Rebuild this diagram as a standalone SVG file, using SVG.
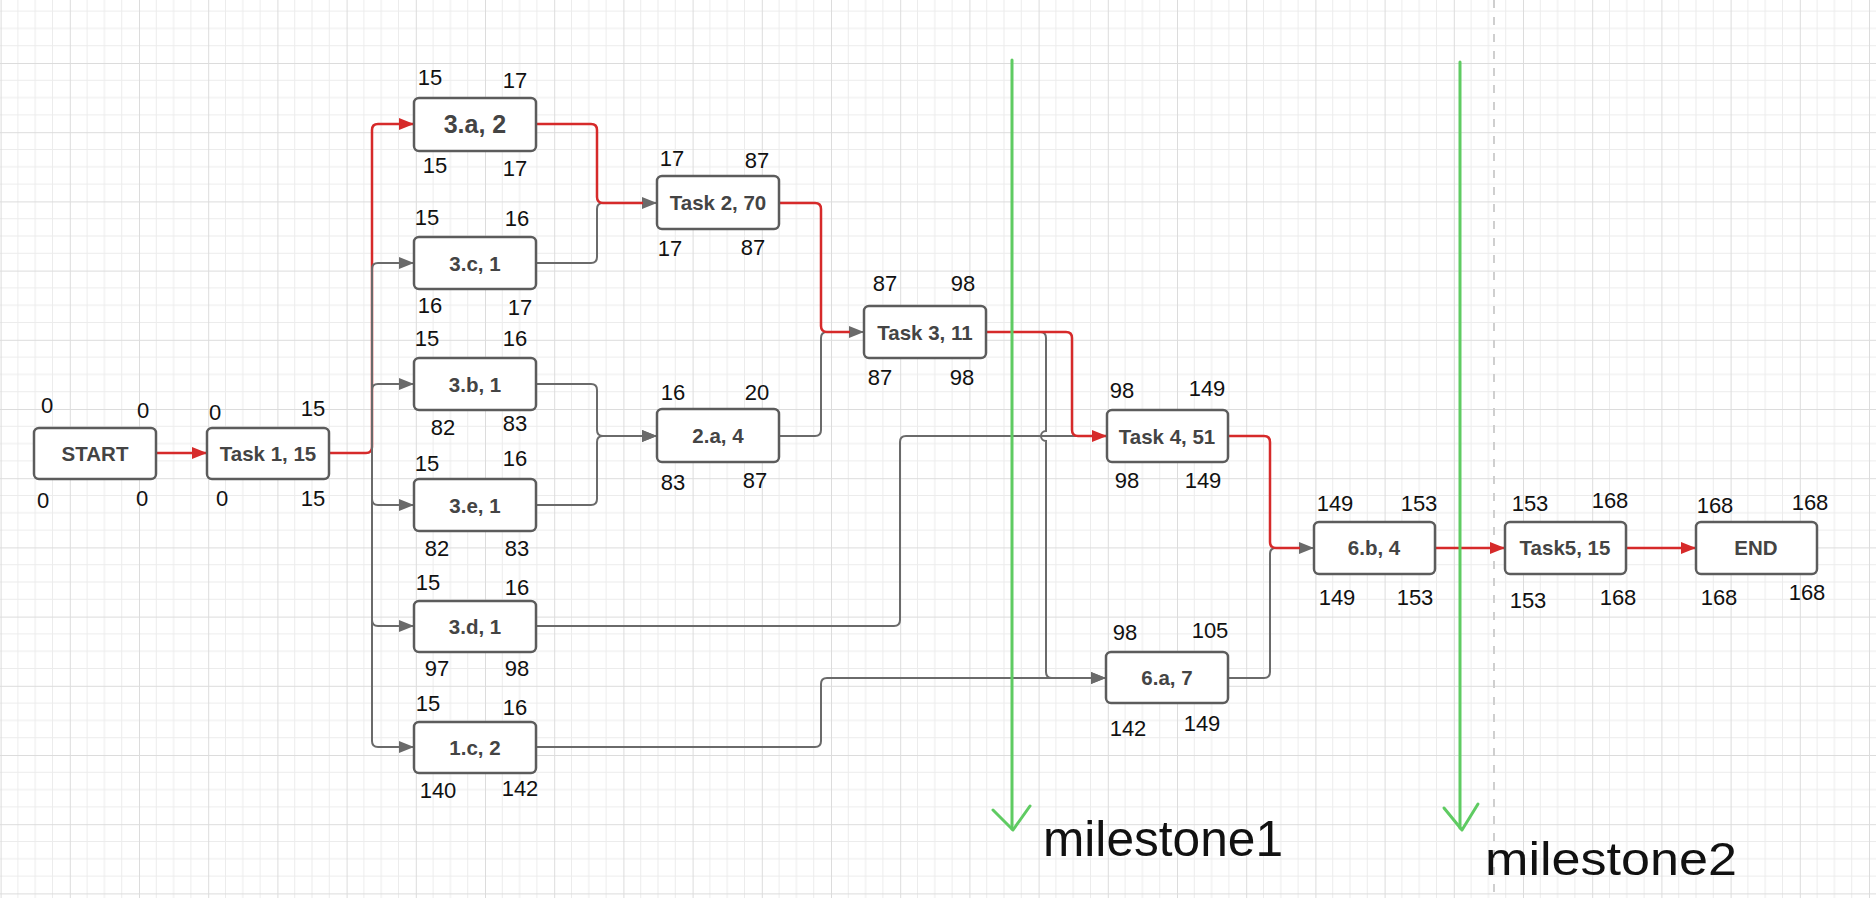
<svg xmlns="http://www.w3.org/2000/svg" width="1876" height="898" viewBox="0 0 1876 898">
<style>
.box{fill:#fff;stroke:#5c5c5c;stroke-width:2.5}
.lbl{font-family:"Liberation Sans",Arial,sans-serif;font-weight:bold;font-size:20.5px;fill:#444;text-anchor:middle}
.num{font-family:"Liberation Sans",Arial,sans-serif;font-size:22px;fill:#111;text-anchor:middle}
.g{fill:none;stroke:#6a6a6a;stroke-width:2}
.r{fill:none;stroke:#d62a2a;stroke-width:2.5}
.ms{fill:none;stroke:#5fcb62;stroke-width:3;stroke-linecap:round;stroke-linejoin:round}
.mst{font-family:"Liberation Sans",Arial,sans-serif;font-size:50px;fill:#111}
</style>
<defs>
<pattern id="grid" width="69.2" height="69.2" patternUnits="userSpaceOnUse" x="0.6" y="-6.2">
<path d="M17.3 0V69.2M34.6 0V69.2M51.9 0V69.2M0 17.3H69.2M0 34.6H69.2M0 51.9H69.2" stroke="#ececec" stroke-width="1" fill="none"/>
<path d="M0.5 0V69.2M0 0.5H69.2" stroke="#dcdcdc" stroke-width="1" fill="none"/>
</pattern>
<marker id="ag" markerUnits="userSpaceOnUse" markerWidth="16" markerHeight="12" refX="15" refY="6" orient="auto"><path d="M0,0L15,6L0,12z" fill="#6a6a6a"/></marker>
<marker id="ar" markerUnits="userSpaceOnUse" markerWidth="16" markerHeight="12" refX="15" refY="6" orient="auto"><path d="M0,0L15,6L0,12z" fill="#d62a2a"/></marker>
</defs>
<rect width="1876" height="898" fill="#fff"/>
<rect width="1876" height="898" fill="url(#grid)"/>
<line x1="1494" y1="0" x2="1494" y2="898" stroke="#cfcfcf" stroke-width="2" stroke-dasharray="8 9"/>

<g id="connectors">
<path class="r" d="M329,453 H366 Q372,453 372,447 V130 Q372,124 378,124 H414" marker-end="url(#ar)"/>
<path class="g" d="M372,453 V269 Q372,263 378,263 H414" marker-end="url(#ag)"/>
<path class="g" d="M372,453 V390 Q372,384 378,384 H414" marker-end="url(#ag)"/>
<path class="g" d="M372,453 V499 Q372,505 378,505 H414" marker-end="url(#ag)"/>
<path class="g" d="M372,453 V620 Q372,626 378,626 H414" marker-end="url(#ag)"/>
<path class="g" d="M372,453 V741 Q372,747 378,747 H414" marker-end="url(#ag)"/>
<path class="g" d="M536,263 H591 Q597,263 597,257 V209 Q597,203 603,203 H657" marker-end="url(#ag)"/>
<path class="g" d="M536,384 H591 Q597,384 597,390 V430 Q597,436 603,436 H657" marker-end="url(#ag)"/>
<path class="g" d="M536,505 H591 Q597,505 597,499 V442 Q597,436 603,436 H657" marker-end="url(#ag)"/>
<path class="g" d="M779,436 H815 Q821,436 821,430 V338 Q821,332 827,332 H864" marker-end="url(#ag)"/>
<path class="g" d="M986,332 H1040 Q1046,332 1046,338 V431 A5,5 0 0 0 1046,441 V672 Q1046,678 1052,678 H1106" marker-end="url(#ag)"/>
<path class="g" d="M536,626 H894 Q900,626 900,620 V442 Q900,436 906,436 H1095"/>
<path class="g" d="M536,747 H815 Q821,747 821,741 V684 Q821,678 827,678 H1106" marker-end="url(#ag)"/>
<path class="g" d="M1228,678 H1264 Q1270,678 1270,672 V554 Q1270,548 1276,548 H1314" marker-end="url(#ag)"/>
<path class="r" d="M156,453 H207" marker-end="url(#ar)"/>
<path class="r" d="M536,124 H591 Q597,124 597,130 V197 Q597,203 603,203 H643"/>
<path class="r" d="M779,203 H815 Q821,203 821,209 V326 Q821,332 827,332 H850"/>
<path class="r" d="M986,332 H1066 Q1072,332 1072,338 V430 Q1072,436 1078,436 H1107" marker-end="url(#ar)"/>
<path class="r" d="M1228,436 H1264 Q1270,436 1270,442 V542 Q1270,548 1276,548 H1300"/>
<path class="r" d="M1435,548 H1505" marker-end="url(#ar)"/>
<path class="r" d="M1626,548 H1696" marker-end="url(#ar)"/>
</g>

<g id="start"><rect class="box" x="34" y="428" width="122" height="51" rx="5"/><text class="lbl" x="95" y="461">START</text>
<text class="num" x="47" y="413">0</text><text class="num" x="143" y="418">0</text><text class="num" x="43" y="508">0</text><text class="num" x="142" y="506">0</text></g>
<g id="task1"><rect class="box" x="207" y="428" width="122" height="51" rx="5"/><text class="lbl" x="268" y="461">Task 1, 15</text>
<text class="num" x="215" y="420">0</text><text class="num" x="313" y="416">15</text><text class="num" x="222" y="506">0</text><text class="num" x="313" y="506">15</text></g>
<g id="n3a"><rect class="box" x="414" y="98" width="122" height="53" rx="5"/><text class="lbl" x="475" y="133" style="font-size:25px">3.a, 2</text>
<text class="num" x="430" y="85">15</text><text class="num" x="515" y="88">17</text><text class="num" x="435" y="173">15</text><text class="num" x="515" y="176">17</text></g>
<g id="n3c"><rect class="box" x="414" y="237" width="122" height="52" rx="5"/><text class="lbl" x="475" y="271">3.c, 1</text>
<text class="num" x="427" y="225">15</text><text class="num" x="517" y="226">16</text><text class="num" x="430" y="313">16</text><text class="num" x="520" y="315">17</text></g>
<g id="n3b"><rect class="box" x="414" y="358" width="122" height="52" rx="5"/><text class="lbl" x="475" y="392">3.b, 1</text>
<text class="num" x="427" y="346">15</text><text class="num" x="515" y="346">16</text><text class="num" x="443" y="435">82</text><text class="num" x="515" y="431">83</text></g>
<g id="n3e"><rect class="box" x="414" y="479" width="122" height="52" rx="5"/><text class="lbl" x="475" y="513">3.e, 1</text>
<text class="num" x="427" y="471">15</text><text class="num" x="515" y="466">16</text><text class="num" x="437" y="556">82</text><text class="num" x="517" y="556">83</text></g>
<g id="n3d"><rect class="box" x="414" y="601" width="122" height="51" rx="5"/><text class="lbl" x="475" y="634">3.d, 1</text>
<text class="num" x="428" y="590">15</text><text class="num" x="517" y="595">16</text><text class="num" x="437" y="676">97</text><text class="num" x="517" y="676">98</text></g>
<g id="n1c"><rect class="box" x="414" y="722" width="122" height="51" rx="5"/><text class="lbl" x="475" y="755">1.c, 2</text>
<text class="num" x="428" y="711">15</text><text class="num" x="515" y="715">16</text><text class="num" x="438" y="798">140</text><text class="num" x="520" y="796">142</text></g>
<g id="task2"><rect class="box" x="657" y="176" width="122" height="53" rx="5"/><text class="lbl" x="718" y="210">Task 2, 70</text>
<text class="num" x="672" y="166">17</text><text class="num" x="757" y="168">87</text><text class="num" x="670" y="256">17</text><text class="num" x="753" y="255">87</text></g>
<g id="n2a"><rect class="box" x="657" y="409" width="122" height="53" rx="5"/><text class="lbl" x="718" y="443">2.a, 4</text>
<text class="num" x="673" y="400">16</text><text class="num" x="757" y="400">20</text><text class="num" x="673" y="490">83</text><text class="num" x="755" y="488">87</text></g>
<g id="task3"><rect class="box" x="864" y="306" width="122" height="52" rx="5"/><text class="lbl" x="925" y="340">Task 3, 11</text>
<text class="num" x="885" y="291">87</text><text class="num" x="963" y="291">98</text><text class="num" x="880" y="385">87</text><text class="num" x="962" y="385">98</text></g>
<g id="task4"><rect class="box" x="1107" y="410" width="121" height="52" rx="5"/><text class="lbl" x="1167" y="444">Task 4, 51</text>
<text class="num" x="1122" y="398">98</text><text class="num" x="1207" y="396">149</text><text class="num" x="1127" y="488">98</text><text class="num" x="1203" y="488">149</text></g>
<g id="n6a"><rect class="box" x="1106" y="652" width="122" height="51" rx="5"/><text class="lbl" x="1167" y="685">6.a, 7</text>
<text class="num" x="1125" y="640">98</text><text class="num" x="1210" y="638">105</text><text class="num" x="1128" y="736">142</text><text class="num" x="1202" y="731">149</text></g>
<g id="n6b"><rect class="box" x="1314" y="522" width="121" height="52" rx="5"/><text class="lbl" x="1374" y="555">6.b, 4</text>
<text class="num" x="1335" y="511">149</text><text class="num" x="1419" y="511">153</text><text class="num" x="1337" y="605">149</text><text class="num" x="1415" y="605">153</text></g>
<g id="task5"><rect class="box" x="1505" y="522" width="121" height="52" rx="5"/><text class="lbl" x="1565" y="555">Task5, 15</text>
<text class="num" x="1530" y="511">153</text><text class="num" x="1610" y="508">168</text><text class="num" x="1528" y="608">153</text><text class="num" x="1618" y="605">168</text></g>
<g id="end"><rect class="box" x="1696" y="522" width="121" height="52" rx="5"/><text class="lbl" x="1756" y="555">END</text>
<text class="num" x="1715" y="513">168</text><text class="num" x="1810" y="510">168</text><text class="num" x="1719" y="605">168</text><text class="num" x="1807" y="600">168</text></g>

<g id="milestone1">
<path class="ms" d="M1012,60 V829"/>
<path class="ms" d="M993,810 L1013,830 L1030,806"/>
<text class="mst" x="1043" y="856" textLength="240" lengthAdjust="spacingAndGlyphs">milestone1</text>
</g>
<g id="milestone2">
<path class="ms" d="M1460,62 V828"/>
<path class="ms" d="M1444,808 L1462,830 L1478,804"/>
<text class="mst" x="1485" y="875" textLength="252" lengthAdjust="spacingAndGlyphs" style="font-size:46px">milestone2</text>
</g>
</svg>
